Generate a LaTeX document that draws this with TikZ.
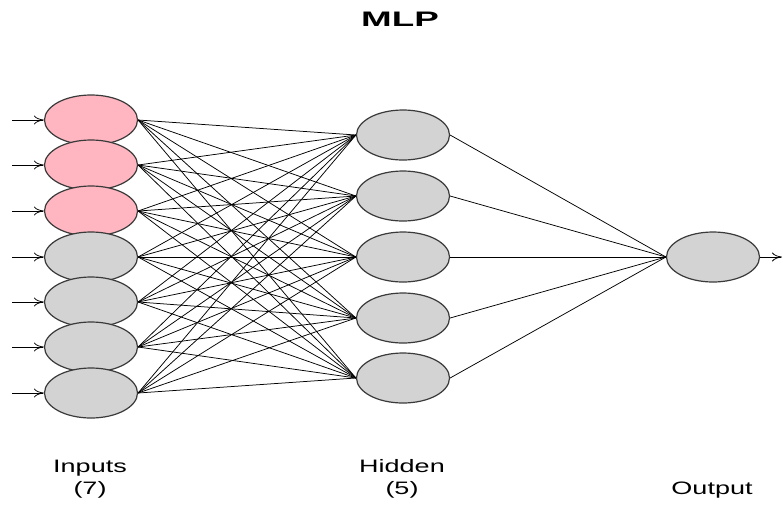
\documentclass[tikz,border=0pt]{standalone}
\usepackage{fontspec}
\setmainfont{Liberation Sans}
\usetikzlibrary{shapes.geometric,arrows.meta}
\definecolor{pinkfill}{HTML}{FFB6C1}
\definecolor{grayfill}{HTML}{D3D3D3}
\definecolor{rimcol}{HTML}{3A3A3A}
\tikzset{
  neuron/.style={ellipse,draw=rimcol,line width=1.2pt,minimum width=93pt,minimum height=50pt,inner sep=0pt},
  pinkn/.style={neuron,fill=pinkfill},
  grayn/.style={neuron,fill=grayfill},
  wire/.style={draw=black,line width=0.75pt},
  inarrow/.style={wire,-{To[length=10pt,width=9pt]}},
  lbl/.style={font=\fontsize{18}{20}\selectfont,xscale=1.5,inner sep=0pt,anchor=base},
  ttl/.style={font=\fontsize{21}{23}\selectfont\bfseries,xscale=1.75,inner sep=0pt,anchor=base}
}
\begin{document}
\begin{tikzpicture}[x=1pt,y=-1pt]
\useasboundingbox (0,0) rectangle (783,504);
% inputs
\node[pinkn] (i1) at (91,120) {};
\node[pinkn] (i2) at (91,165) {};
\node[pinkn] (i3) at (91,211) {};
\node[grayn] (i4) at (91,257) {};
\node[grayn] (i5) at (91,302) {};
\node[grayn] (i6) at (91,347) {};
\node[grayn] (i7) at (91,393) {};
% hidden
\node[grayn] (h1) at (403,135) {};
\node[grayn] (h2) at (403,196) {};
\node[grayn] (h3) at (403,257) {};
\node[grayn] (h4) at (403,318) {};
\node[grayn] (h5) at (403,378) {};
% output
\node[grayn] (o) at (713,257) {};
% free ends
\foreach \i/\y in {1/120,2/165,3/211,4/257,5/302,6/347,7/393} {
  \coordinate (s\i) at (12,\y);
}
\coordinate (oe) at (782,257);
% wires
\foreach \i in {1,...,7} {
  \foreach \h in {1,...,5} {
    \draw[wire] (i\i.east) -- (h\h.west);
  }
  \draw[inarrow] (s\i) -- (i\i.west);
}
\foreach \h in {1,...,5} {
  \draw[wire] (h\h.east) -- (o.west);
}
\draw[inarrow] (o.east) -- (oe);
% labels
\node[ttl] (title) at (400,26) {MLP};
\node[lbl] (li) at (90,472) {Inputs};
\node[lbl] (li2) at (90,494) {(7)};
\node[lbl] (lh) at (402,472) {Hidden};
\node[lbl] (lh2) at (402,494) {(5)};
\node[lbl] (lo) at (712,494) {Output};
\end{tikzpicture}
\end{document}
